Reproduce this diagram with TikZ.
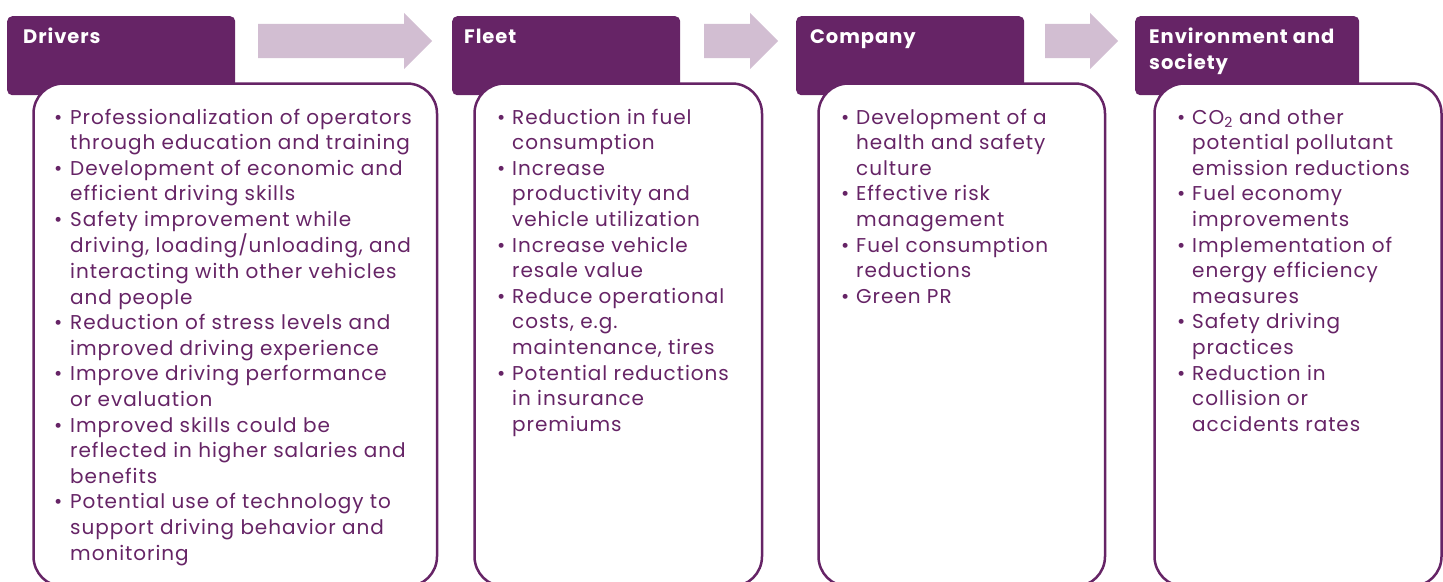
\documentclass[tikz,border=0pt]{standalone}
\usepackage{fontspec}
\setmainfont{Poppins}[LetterSpace=4.8]
\usepackage{tikz}
\usetikzlibrary{positioning, shapes.arrows}

\definecolor{plum}{HTML}{662466}
\definecolor{lightplum}{HTML}{D2BED2}

\newcommand{\bul}{\textbullet}

\begin{document}
\begin{tikzpicture}[x=1pt, y=-1pt,
header/.style={rectangle, rounded corners=5pt, fill=plum, anchor=north west, minimum height=79pt, inner sep=0pt},
panel/.style={rectangle, rounded corners=30pt, draw=plum, line width=2.5pt, fill=white, anchor=north west, minimum height=503pt, inner sep=0pt},
title/.style={anchor=base west, inner sep=0pt, text=white, font=\bfseries\fontsize{19.5}{26}\selectfont},
points/.style={anchor=base west, inner sep=0pt, text=plum, font=\fontsize{20}{25.6}\selectfont},
flow/.style={single arrow, anchor=tail, fill=lightplum, inner xsep=0pt, inner ysep=17pt, single arrow head extend=11pt, minimum height=#1},
]

\useasboundingbox (0,0) rectangle (1443,581);

%Headers
\node [header, minimum width=228pt] (hdrivers) at (7,16) {};
\node [header, minimum width=228pt] (hfleet) at (452,16) {};
\node [header, minimum width=228pt] (hcompany) at (796,16) {};
\node [header, minimum width=224pt] (henv) at (1135,16) {};

%Panels
\node [panel, minimum width=403.5pt] (pdrivers) at (32.25,82.25) {};
\node [panel, minimum width=287.5pt] (pfleet) at (473.25,82.25) {};
\node [panel, minimum width=286.5pt] (pcompany) at (817.25,82.25) {};
\node [panel, minimum width=287pt] (penv) at (1153.25,82.25) {};

%Arrows
\node [flow=174pt] (a1) at (258,41) {};
\node [flow=74pt] (a2) at (704,41) {};
\node [flow=73pt] (a3) at (1045,41) {};

%Titles
\node [title] (tdrivers) at (23,43) {Drivers};
\node [title] (tfleet) at (464,43) {Fleet};
\node [title] (tcompany) at (810,43) {Company};
\node [title] (tenv) at (1149,43) {\begin{tabular}[t]{@{}l@{}}Environment and\\society\end{tabular}};

%Bullet lists
\node [points] (ldrivers) at (54,124) {\begin{tabular}[t]{@{}p{16pt}@{}l@{}}
\bul & Professionalization of operators\\
     & through education and training\\
\bul & Development of economic and\\
     & efficient driving skills\\
\bul & Safety improvement while\\
     & driving, loading/unloading, and\\
     & interacting with other vehicles\\
     & and people\\
\bul & Reduction of stress levels and\\
     & improved driving experience\\
\bul & Improve driving performance\\
     & or evaluation\\
\bul & Improved skills could be\\
     & reflected in higher salaries and\\
     & benefits\\
\bul & Potential use of technology to\\
     & support driving behavior and\\
     & monitoring
\end{tabular}};

\node [points] (lfleet) at (497,124) {\begin{tabular}[t]{@{}p{15pt}@{}l@{}}
\bul & Reduction in fuel\\
     & consumption\\
\bul & Increase\\
     & productivity and\\
     & vehicle utilization\\
\bul & Increase vehicle\\
     & resale value\\
\bul & Reduce operational\\
     & costs, e.g.\\
     & maintenance, tires\\
\bul & Potential reductions\\
     & in insurance\\
     & premiums
\end{tabular}};

\node [points] (lcompany) at (841,124) {\begin{tabular}[t]{@{}p{15pt}@{}l@{}}
\bul & Development of a\\
     & health and safety\\
     & culture\\
\bul & Effective risk\\
     & management\\
\bul & Fuel consumption\\
     & reductions\\
\bul & Green PR
\end{tabular}};

\node [points] (lenv) at (1177,124) {\begin{tabular}[t]{@{}p{15pt}@{}l@{}}
\bul & CO\textsubscript{2} and other\\
     & potential pollutant\\
     & emission reductions\\
\bul & Fuel economy\\
     & improvements\\
\bul & Implementation of\\
     & energy efficiency\\
     & measures\\
\bul & Safety driving\\
     & practices\\
\bul & Reduction in\\
     & collision or\\
     & accidents rates
\end{tabular}};
\end{tikzpicture}
\end{document}
